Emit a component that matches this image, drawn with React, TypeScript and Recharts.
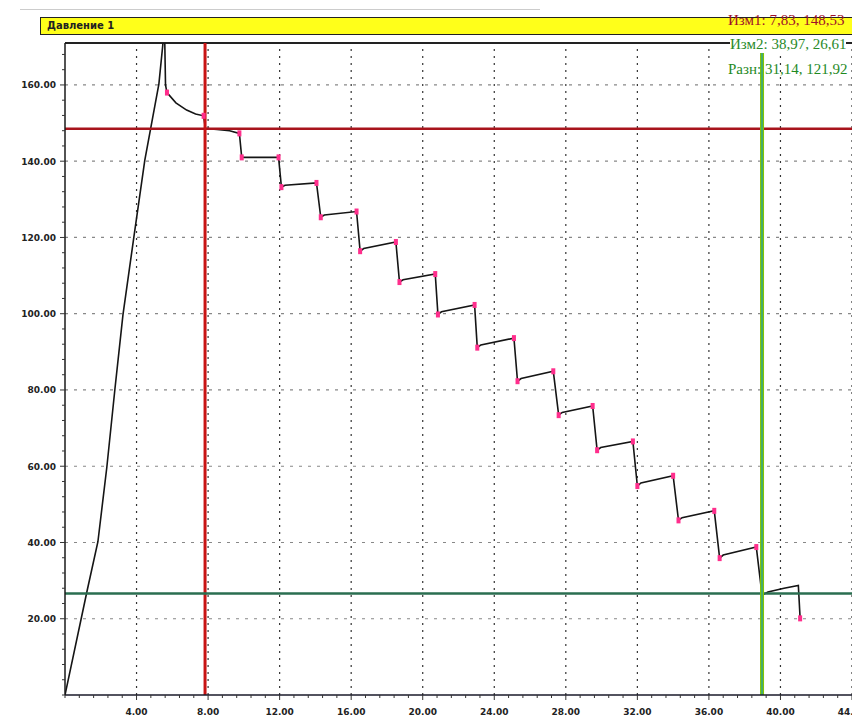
import { ComposedChart, Line, Scatter, XAxis, YAxis, ReferenceLine } from 'recharts'

// pressure trace (time, pressure)
const times = [
  0, 1.23, 1.84, 2.34, 2.79, 3.24, 3.85, 4.46, 5.25, 5.5, 5.56, 5.62, 5.7,
  6.2, 6.8, 7.3, 7.75, 7.85, 8.5, 9.2, 9.75, 9.88, 11.94,
  12.1, 12.3, 14.06, 14.3, 14.5, 16.3, 16.5, 16.7, 18.5, 18.7, 18.9, 20.7,
  20.85, 21.05, 22.9, 23.05, 23.25, 25.1, 25.3, 25.5, 27.3, 27.6, 27.8, 29.5,
  29.75, 29.95, 31.75, 32.0, 32.2, 34.0, 34.3, 34.5, 36.3, 36.6, 36.8, 38.65,
  38.97, 39.3, 40.2, 41.0, 41.1,
]
const pressure = [
  0, 27.2, 40.2, 59.8, 80.2, 99.7, 120.1, 140.2, 160.3, 172, 176, 160, 158,
  155.3, 153.4, 152.4, 151.9, 148.6, 148.3, 148, 147.3, 141, 141,
  133.2, 133.7, 134.3, 125.3, 125.9, 126.8, 116.4, 117.1, 118.8, 108.3, 108.9, 110.4,
  99.8, 100.5, 102.3, 91.1, 91.8, 93.6, 82.3, 83.0, 84.9, 73.4, 74.1, 75.8,
  64.2, 64.9, 66.5, 54.8, 55.6, 57.5, 45.8, 46.5, 48.3, 35.9, 36.7, 38.8,
  26.2, 27.0, 28.0, 28.7, 20.1,
]

// pink step markers
const markerTimes = [
  5.7, 7.75, 9.75, 9.88, 11.94, 12.1, 14.06, 14.3, 16.3, 16.5, 18.5, 18.7, 20.7,
  20.85, 22.9, 23.05, 25.1, 25.3, 27.3, 27.6, 29.5, 29.75, 31.75, 32.0, 34.0,
  34.3, 36.3, 36.6, 38.65, 41.1,
]
const markerPressure = [
  158, 151.9, 147.3, 141, 141, 133.2, 134.3, 125.3, 126.8, 116.4, 118.8, 108.3, 110.4,
  99.8, 102.3, 91.1, 93.6, 82.3, 84.9, 73.4, 75.8, 64.2, 66.5, 54.8, 57.5,
  45.8, 48.3, 35.9, 38.8, 20.1,
]

const xMajor = [4, 8, 12, 16, 20, 24, 28, 32, 36, 40, 44]
const yMajor = [20, 40, 60, 80, 100, 120, 140, 160]
const xMinor = Array.from({ length: 56 }, (_, i) => +(i * 0.8).toFixed(1))
const yMinor = Array.from({ length: 43 }, (_, i) => i * 4)

// cursors
const cursor1 = { t: 7.83, p: 148.53 }
const cursor2 = { t: 38.97, p: 26.61 }

const lineData = times.map((t, i) => ({ t, p: pressure[i] }))
const markerData = markerTimes.map((t, i) => ({ t, p: markerPressure[i] }))

const fmt = (n: number) => n.toFixed(2)
const fmtRu = (n: number) => n.toFixed(2).replace('.', ',')

const LABEL_FONT = '"DejaVu Sans", sans-serif'
const CURSOR_FONT = '"Liberation Serif", serif'

const YTick = (props: any) => {
  const { x, y, payload } = props
  const v = payload.value
  const major = v > 0 && v % 20 === 0
  return (
    <g>
      <line x1={x - (major ? 5 : 3)} x2={x} y1={y} y2={y} stroke="#333" strokeWidth={1} />
      {major && (
        <text x={x - 9} y={y + 3.5} textAnchor="end" fontSize={9} fontWeight="bold" fontFamily={LABEL_FONT} fill="#222">
          {fmt(v)}
        </text>
      )}
    </g>
  )
}

const XTick = (props: any) => {
  const { x, y, payload } = props
  const v = payload.value
  const major = v > 0 && Math.abs(v / 4 - Math.round(v / 4)) < 0.001
  return (
    <g>
      <line x1={x} x2={x} y1={y} y2={y + (major ? 5 : 3)} stroke="#333" strokeWidth={1} />
      {major && (
        <text x={x} y={y + 20} textAnchor="middle" fontSize={9} fontWeight="bold" fontFamily={LABEL_FONT} fill="#222">
          {fmt(v)}
        </text>
      )}
    </g>
  )
}

const Marker = (props: any) => (
  <rect x={props.cx - 2} y={props.cy - 3} width={4} height={6} fill="#ff2e8c" />
)

export default function App() {
  return (
    <div style={{ position: 'absolute', left: 0, top: 0, width: 852, height: 718, background: '#fff', overflow: 'hidden' }}>
      <div style={{ position: 'absolute', left: 20, top: 9, width: 520, height: 1, background: '#ccc' }} />
      <div
        style={{
          position: 'absolute', left: 40, top: 17, width: 830, height: 18,
          background: '#ffff1a', border: '1.5px solid #222', boxSizing: 'border-box',
        }}
      >
        <span style={{ position: 'absolute', left: 6, top: 2, fontFamily: LABEL_FONT, fontSize: 10, fontWeight: 'bold', color: '#222' }}>
          Давление 1
        </span>
      </div>
      <ComposedChart
        width={852}
        height={718}
        data={lineData}
        margin={{ top: 43, right: 0, bottom: 0, left: 0 }}
        style={{ position: 'absolute', left: 0, top: 0 }}
      >
        <XAxis
          type="number"
          dataKey="t"
          domain={[0, 44]}
          ticks={xMinor}
          interval={0}
          tick={<XTick />}
          tickLine={false}
          tickSize={0}
          tickMargin={0}
          height={23}
          axisLine={{ stroke: '#1a1a2a', strokeWidth: 1.5 }}
          allowDataOverflow
        />
        <YAxis
          type="number"
          dataKey="p"
          domain={[0, 171]}
          ticks={yMinor}
          interval={0}
          tick={<YTick />}
          tickLine={false}
          tickSize={0}
          tickMargin={0}
          width={65}
          axisLine={{ stroke: '#1a1a1a', strokeWidth: 1.5 }}
          allowDataOverflow
        />
        {xMajor.map((v) => (
          <ReferenceLine key={'gx' + v} x={v} stroke="#333" strokeWidth={1.2} strokeDasharray="2 5" />
        ))}
        {yMajor.map((v) => (
          <ReferenceLine key={'gy' + v} y={v} stroke="#888" strokeWidth={1.2} strokeDasharray="3 6" />
        ))}
        <ReferenceLine y={171} stroke="#222" strokeWidth={2} />
        <Line
          type="linear"
          dataKey="p"
          stroke="#151515"
          strokeWidth={1.6}
          dot={false}
          isAnimationActive={false}
        />
        <Scatter data={markerData} dataKey="p" shape={<Marker />} isAnimationActive={false} />
        <ReferenceLine y={cursor1.p} stroke="#a8141c" strokeWidth={2.5} />
        <ReferenceLine x={cursor1.t} stroke="#c81414" strokeWidth={3} />
        <ReferenceLine y={cursor2.p} stroke="#2a6e50" strokeWidth={2.5} />
        <ReferenceLine x={cursor2.t} stroke="#84c400" strokeWidth={4} />
        <ReferenceLine x={cursor2.t} stroke="#1aa0b0" strokeWidth={1.2} />
      </ComposedChart>
      <div style={{ position: 'absolute', left: 728, top: 12, fontFamily: CURSOR_FONT, fontSize: 15, color: '#a0102a', whiteSpace: 'nowrap' }}>
        Изм1: {fmtRu(cursor1.t)}, {fmtRu(cursor1.p)}
      </div>
      <div style={{ position: 'absolute', left: 730, top: 36, fontFamily: CURSOR_FONT, fontSize: 15, color: '#2a8a2a', whiteSpace: 'nowrap', background: '#fff' }}>
        Изм2: {fmtRu(cursor2.t)}, {fmtRu(cursor2.p)}
      </div>
      <div style={{ position: 'absolute', left: 728, top: 61, fontFamily: CURSOR_FONT, fontSize: 15, color: '#1f8a1f', whiteSpace: 'nowrap' }}>
        Разн: {fmtRu(cursor2.t - cursor1.t)}, {fmtRu(cursor1.p - cursor2.p)}
      </div>
    </div>
  )
}
